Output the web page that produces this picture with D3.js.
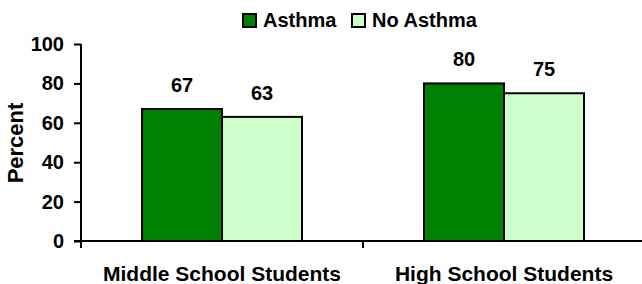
<!DOCTYPE html>
<html><head><meta charset="utf-8">
<script src="https://cdn.jsdelivr.net/npm/d3@7"></script>
<style>body{margin:0;background:#fff}svg{display:block}text{font-family:"Liberation Sans",Arial,sans-serif;font-weight:bold;fill:#000}</style>
</head><body><svg id="c" width="642" height="284"></svg>
<script>
const categories = ["Middle School Students", "High School Students"];
const seriesNames = ["Asthma", "No Asthma"];
const asthma = [67, 80];
const noAsthma = [63, 75];
const yTicks = [0, 20, 40, 60, 80, 100];
const colors = ["#008000", "#CCFFCC"];

const svg = d3.select("#c");
const mLeft = 81, mRight = 645, mTop = 44, mBottom = 241;
const x0 = d3.scaleBand().domain(categories).range([mLeft, mRight]);
const x1 = d3.scaleBand().domain(seriesNames).range([61, x0.bandwidth() - 61]);
const y = d3.scaleLinear().domain([0, 100]).range([mBottom, mTop]);

const rows = categories.map((c, i) => ({cat: c, vals: [asthma[i], noAsthma[i]]}));

const g = svg.append("g");
rows.forEach(r => {
  r.vals.forEach((v, j) => {
    const xx = x0(r.cat) + x1(seriesNames[j]);
    g.append("rect").attr("x", xx).attr("y", y(v)).attr("width", x1.bandwidth()).attr("height", y(0) - y(v))
      .attr("fill", colors[j]).attr("stroke", "#000").attr("stroke-width", 2);
    g.append("text").attr("x", xx + x1.bandwidth() / 2).attr("y", y(v) - 17).attr("text-anchor", "middle")
      .style("font-size", "20px").text(v);
  });
});

// y axis
const ya = svg.append("g").attr("transform", `translate(${mLeft},0)`)
  .call(d3.axisLeft(y).tickValues(yTicks).tickSize(7).tickPadding(10).tickFormat(d3.format("d")));
ya.select(".domain").attr("stroke", "#000").attr("stroke-width", 2).attr("d", `M0,${mTop}V${mBottom}`);
ya.selectAll(".tick line").attr("stroke", "#000").attr("stroke-width", 2);
ya.selectAll(".tick text").style("font-size", "20px").style("font-family", "'Liberation Sans',Arial,sans-serif").style("font-weight", "bold").attr("fill", "#000");

// x axis
svg.append("line").attr("x1", mLeft - 7).attr("x2", 642).attr("y1", mBottom).attr("y2", mBottom).attr("stroke", "#000").attr("stroke-width", 2);
[x0.range()[0], x0(categories[1])].forEach(xb => {
  svg.append("line").attr("x1", xb).attr("x2", xb).attr("y1", mBottom).attr("y2", mBottom + 7).attr("stroke", "#000").attr("stroke-width", 2);
});
categories.forEach(c => {
  svg.append("text").attr("x", x0(c) + x0.bandwidth() / 2).attr("y", 281).attr("text-anchor", "middle").style("font-size", "21px").text(c);
});

// y title
svg.append("text").attr("transform", "translate(23,143) rotate(-90)").attr("text-anchor", "middle").style("font-size", "22px").text("Percent");

// legend
const legX = [243, 352];
seriesNames.forEach((s, j) => {
  svg.append("rect").attr("x", legX[j]).attr("y", 14).attr("width", 13).attr("height", 13).attr("fill", colors[j]).attr("stroke", "#000").attr("stroke-width", 2);
  svg.append("text").attr("x", legX[j] + 20).attr("y", 27).style("font-size", "20px").text(s);
});
</script></body></html>
